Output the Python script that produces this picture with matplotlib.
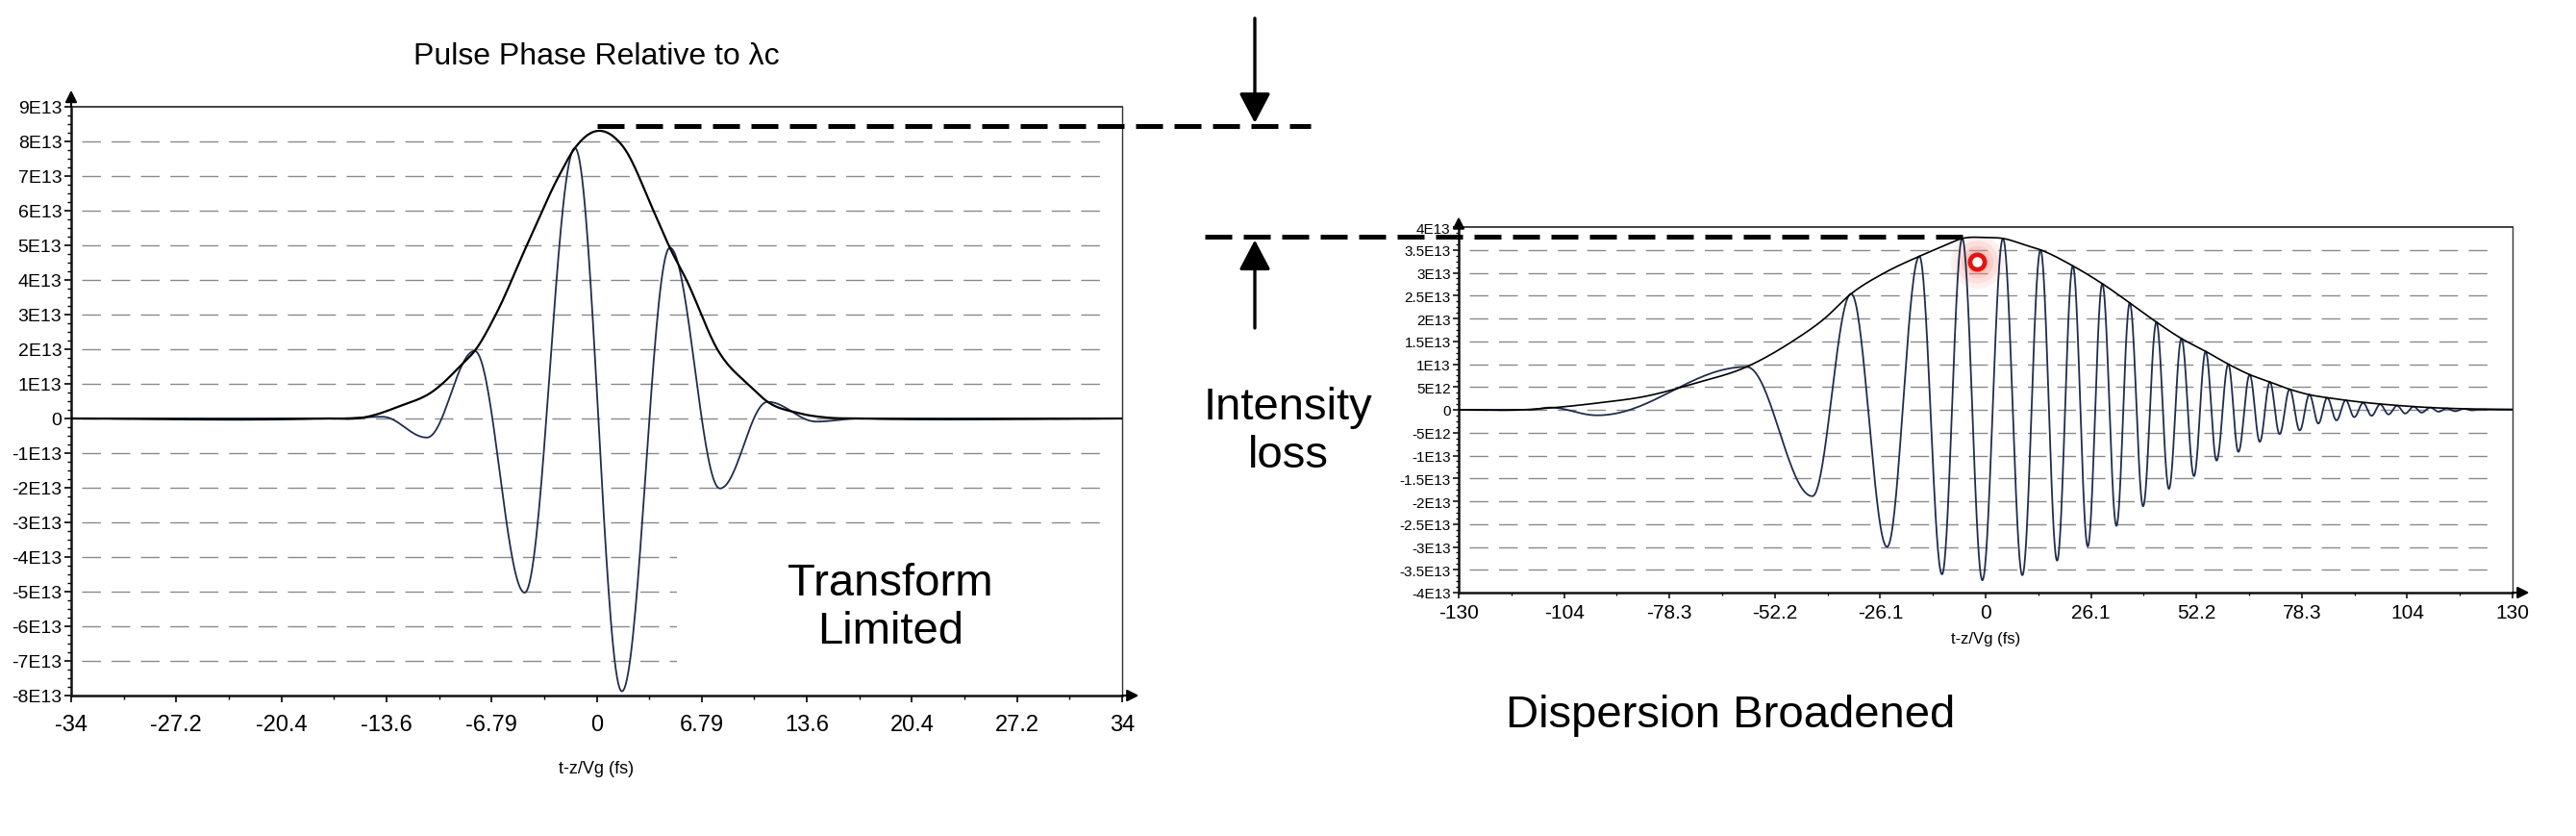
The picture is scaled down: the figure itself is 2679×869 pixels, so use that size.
import numpy as np
import matplotlib.pyplot as plt
from matplotlib.lines import Line2D
from matplotlib.patches import FancyArrowPatch, Rectangle, ArrowStyle
from matplotlib.ticker import MultipleLocator

plt.rcParams['font.family'] = ['Liberation Sans', 'DejaVu Sans']

W, H = 2679, 870

# ---- data (field values in units of 1E13) ----
# transform limited pulse: carrier extrema
tl_t = [-33.95, -17.0, -13.85, -10.97, -7.88, -4.65, -1.40, 1.63, 4.73, 7.96, 11.05, 14.2, 17.0, 33.95]
tl_v = [0, 0, 0.05, -0.55, 1.95, -5.03, 7.81, -7.88, 4.93, -2.02, 0.48, -0.09, 0, 0]
# its envelope
tl_env_t = [-33.95, -18.0, -14.8, -12.7, -10.66, -8.6, -7.88, -6.54, -4.49, -2.43,
            -1.40, 0.0, 1.69, 3.74, 4.73, 5.8, 7.86, 9.92, 11.05, 13.0,
            15.06, 17.0, 33.95]
tl_env_v = [0, 0, 0.05, 0.36, 0.76, 1.61, 1.95, 2.98, 5.02, 7.01,
            7.81, 8.3, 7.86, 5.93, 4.93, 4.0, 1.95, 0.93, 0.48, 0.16,
            0.02, 0, 0]

# dispersion broadened pulse: carrier extrema
db_t = [-130.5, -113, -107.9, -96.2, -59.2, -42.9, -33.3, -24.4, -16.4, -10.8,
        -5.8, -0.8, 4.3, 9.1, 13.6, 17.7, 21.6, 25.3, 28.9, 32.4,
        35.7, 39.0, 42.3, 45.4, 48.5, 51.6, 54.5, 57.2, 60.1, 62.6,
        65.4, 67.9, 70.4, 72.8, 75.3, 77.8, 80.2, 82.4, 84.6, 86.9,
        89.2, 91.3, 93.5, 95.6, 97.7, 99.8, 101.9, 103.9, 106.0, 108.0,
        110.1, 112.2, 114.2, 116.3, 118.4, 120.4, 122.5, 130.5]
db_v = [0, 0, 0.05, -0.12, 0.94, -1.89, 2.54, -3.0, 3.36, -3.6,
        3.75, -3.73, 3.75, -3.62, 3.50, -3.30, 3.15, -2.99, 2.76, -2.54,
        2.34, -2.11, 1.92, -1.73, 1.56, -1.45, 1.28, -1.11, 1.00, -0.92,
        0.77, -0.70, 0.61, -0.53, 0.45, -0.45, 0.33, -0.30, 0.26, -0.23,
        0.21, -0.16, 0.15, -0.13, 0.12, -0.10, 0.09, -0.08, 0.07, -0.06,
        0.05, -0.04, 0.03, -0.03, 0.02, -0.01, 0.005, 0]
db_env_t = [-130.5, -115, -108, -96, -84, -72, -59.2, -48, -40, -33.3,
            -25, -16.4, -10, -5.8, 0, 4.3, 10, 13.6, 21.6, 28.9,
            35.7, 42.3, 48.5, 54.5, 60.1, 65.4, 70.4, 75.3, 80.2, 85,
            90, 95, 100, 110, 120, 130.5]
db_env_v = [0, 0, 0.04, 0.15, 0.3, 0.58, 0.94, 1.49, 1.99, 2.54,
            3.0, 3.36, 3.6, 3.75, 3.77, 3.75, 3.6, 3.5, 3.15, 2.76,
            2.34, 1.92, 1.56, 1.28, 1.0, 0.77, 0.61, 0.45, 0.33, 0.26,
            0.2, 0.15, 0.11, 0.05, 0.02, 0.01]

tl_peak = 8.45      # level of upper dashed marker
db_peak = 3.78      # level of lower dashed marker
db_peak_t = -5.8
marker_t, marker_v = -2.1, 3.24   # red ring

tl_xticks = [-33.95, -27.16, -20.37, -13.58, -6.79, 0, 6.79, 13.58, 20.37, 27.16, 33.95]
tl_xlabels = ['-34', '-27.2', '-20.4', '-13.6', '-6.79', '0', '6.79', '13.6', '20.4', '27.2', '34']
tl_yticks = [9, 8, 7, 6, 5, 4, 3, 2, 1, 0, -1, -2, -3, -4, -5, -6, -7, -8]
tl_ylabels = ['9E13', '8E13', '7E13', '6E13', '5E13', '4E13', '3E13', '2E13', '1E13', '0',
              '-1E13', '-2E13', '-3E13', '-4E13', '-5E13', '-6E13', '-7E13', '-8E13']

db_xticks = [-130.5, -104.4, -78.3, -52.2, -26.1, 0, 26.1, 52.2, 78.3, 104.4, 130.5]
db_xlabels = ['-130', '-104', '-78.3', '-52.2', '-26.1', '0', '26.1', '52.2', '78.3', '104', '130']
db_yticks = [4, 3.5, 3, 2.5, 2, 1.5, 1, 0.5, 0, -0.5, -1, -1.5, -2, -2.5, -3, -3.5, -4]
db_ylabels = ['4E13', '3.5E13', '3E13', '2.5E13', '2E13', '1.5E13', '1E13', '5E12', '0',
              '-5E12', '-1E13', '-1.5E13', '-2E13', '-2.5E13', '-3E13', '-3.5E13', '-4E13']


def carrier(ts, vs, n=40):
    # half-cosine segments between successive extrema
    xs, ys = [], []
    s = np.linspace(0, 1, n)
    for i in range(len(ts) - 1):
        xs.append(ts[i] + (ts[i + 1] - ts[i]) * s)
        ys.append(vs[i] + (vs[i + 1] - vs[i]) * (1 - np.cos(np.pi * s)) / 2)
    return np.concatenate(xs), np.concatenate(ys)


def smooth(ts, vs, n=30):
    # cubic hermite through the read envelope points
    t = np.asarray(ts, float)
    v = np.asarray(vs, float)
    d = np.gradient(v, t)
    s = np.linspace(0, 1, n)
    h00, h10 = 2 * s**3 - 3 * s**2 + 1, s**3 - 2 * s**2 + s
    h01, h11 = -2 * s**3 + 3 * s**2, s**3 - s**2
    xs, ys = [], []
    for i in range(len(t) - 1):
        h = t[i + 1] - t[i]
        xs.append(t[i] + h * s)
        ys.append(h00 * v[i] + h10 * h * d[i] + h01 * v[i + 1] + h11 * h * d[i + 1])
    return np.concatenate(xs), np.concatenate(ys)


def fx(px):
    return px / W


def fy(py):
    return 1 - py / H


fig = plt.figure(figsize=(W / 100, H / 100), dpi=100)
ax1 = fig.add_axes([fx(74), fy(724), fx(1167) - fx(74), fy(112) - fy(724)])
ax2 = fig.add_axes([fx(1517), fy(617), fx(2613) - fx(1517), fy(237) - fy(617)])

wave_col = '#1f2d4d'
grid_col = '#8a8a8a'


def style_axes(ax, xticks, xlabels, yticks, ylabels, xs, ys, ymin, ymax, xlim, grid_vals):
    ax.set_xlim(-xlim, xlim)
    ax.set_ylim(ymin, ymax)
    ax.set_xticks(xticks)
    ax.set_xticklabels(xlabels, fontsize=xs)
    ax.set_yticks(yticks)
    ax.set_yticklabels(ylabels, fontsize=ys)
    for y in grid_vals:
        ax.axhline(y, xmin=0.01, xmax=0.985, color=grid_col, lw=1.0, dashes=(14, 8), zorder=1)
    for side in ['left', 'bottom']:
        ax.spines[side].set_linewidth(1.8)
        ax.spines[side].set_color('#111111')
    ax.spines['top'].set_linewidth(1.3)
    ax.spines['top'].set_color('#333333')
    ax.spines['right'].set_linewidth(1.0)
    ax.spines['right'].set_color('#333333')
    ax.annotate('', xy=(0, 1.028), xytext=(0, 1.0), xycoords='axes fraction',
                arrowprops=dict(arrowstyle='-|>,head_length=0.6,head_width=0.3', color='k',
                                lw=1.5, shrinkA=0, shrinkB=0, mutation_scale=12))
    ax.annotate('', xy=(1.016, 0), xytext=(1.0, 0), xycoords='axes fraction',
                arrowprops=dict(arrowstyle='-|>,head_length=0.6,head_width=0.3', color='k',
                                lw=1.5, shrinkA=0, shrinkB=0, mutation_scale=12))


# ---- left panel: transform limited ----
style_axes(ax1, tl_xticks, tl_xlabels, tl_yticks, tl_ylabels, 17, 14, -8, 9, 33.95,
           [v for v in tl_yticks if -8 < v < 9])
ax1.xaxis.set_minor_locator(MultipleLocator(3.395))
ax1.yaxis.set_minor_locator(MultipleLocator(0.25))
ax1.tick_params(axis='both', which='major', direction='out', length=5, width=1.2)
ax1.tick_params(axis='both', which='minor', direction='out', length=3, width=1.0)
ax1.tick_params(axis='x', pad=9)
ax1.tick_params(axis='y', pad=2)
ax1.add_patch(Rectangle((5.2, -7.6), 27.4, 4.05, facecolor='white', edgecolor='none', zorder=1.5))

x, y = carrier(tl_t, tl_v)
ax1.plot(x, y, color=wave_col, lw=1.3, zorder=3)
x, y = smooth(tl_env_t, tl_env_v)
ax1.plot(x, y, color='black', lw=1.6, zorder=3)

# ---- right panel: dispersion broadened ----
style_axes(ax2, db_xticks, db_xlabels, db_yticks, db_ylabels, 15, 11, -4, 4, 130.5,
           [v for v in db_yticks if -4 < v < 4])
ax2.xaxis.set_minor_locator(MultipleLocator(13.05))
ax2.yaxis.set_minor_locator(MultipleLocator(0.125))
ax2.tick_params(axis='both', which='major', direction='out', length=4, width=1.1)
ax2.tick_params(axis='both', which='minor', direction='out', length=2, width=0.9)
ax2.tick_params(axis='x', pad=4)
ax2.tick_params(axis='y', pad=2)

for ms, a in [(40, 0.12), (32, 0.16), (24, 0.2), (17, 0.25)]:
    ax2.plot(marker_t, marker_v, 'o', ms=ms, color='#f28b82', alpha=a, mec='none', zorder=2)

x, y = carrier(db_t, db_v)
ax2.plot(x, y, color=wave_col, lw=1.3, zorder=3)
x, y = smooth(db_env_t, db_env_v)
ax2.plot(x, y, color='black', lw=1.2, zorder=3)

ax2.plot(marker_t, marker_v, 'o', ms=11, mfc='white', mec='#e3140f', mew=3.4, zorder=4)

# ---- intensity loss markers ----
inv = fig.transFigure.inverted()
x0, y_up = inv.transform(ax1.transData.transform((0.0, tl_peak)))
fig.add_artist(Line2D([x0, fx(1363)], [y_up, y_up], transform=fig.transFigure,
                      color='black', lw=3.6, dashes=(5.6, 2.4)))
x1, y_lo = inv.transform(ax2.transData.transform((db_peak_t, db_peak)))
fig.add_artist(Line2D([fx(1253), x1], [y_lo, y_lo], transform=fig.transFigure,
                      color='black', lw=3.6, dashes=(5.6, 2.4), zorder=5))

head = ArrowStyle('-|>', head_length=0.95, head_width=0.5)
fig.add_artist(FancyArrowPatch((fx(1305), fy(20)), (fx(1305), y_up + 3 / H),
                               transform=fig.transFigure, arrowstyle=head, mutation_scale=20,
                               lw=2.4, color='black', shrinkA=0, shrinkB=0))
fig.add_artist(FancyArrowPatch((fx(1305), fy(342)), (fx(1305), y_lo - 3 / H),
                               transform=fig.transFigure, arrowstyle=head, mutation_scale=20,
                               lw=2.4, color='black', shrinkA=0, shrinkB=0))

# ---- texts ----
fig.text(fx(620), fy(67), 'Pulse Phase Relative to λc', fontsize=23, ha='center', va='baseline')
fig.text(fx(620), fy(800), 't-z/Vg (fs)', fontsize=13, ha='center', va='center')
fig.text(fx(2065), fy(664), 't-z/Vg (fs)', fontsize=12, ha='center', va='center')
fig.text(fx(926), fy(632), 'Transform\nLimited', fontsize=34, ha='center', va='center',
         linespacing=1.15)
fig.text(fx(1340), fy(449), 'Intensity\nloss', fontsize=34, ha='center', va='center',
         linespacing=1.15)
fig.text(fx(1800), fy(756), 'Dispersion Broadened', fontsize=34, ha='center', va='baseline')

fig.savefig('out.png', dpi=100, facecolor='white')
